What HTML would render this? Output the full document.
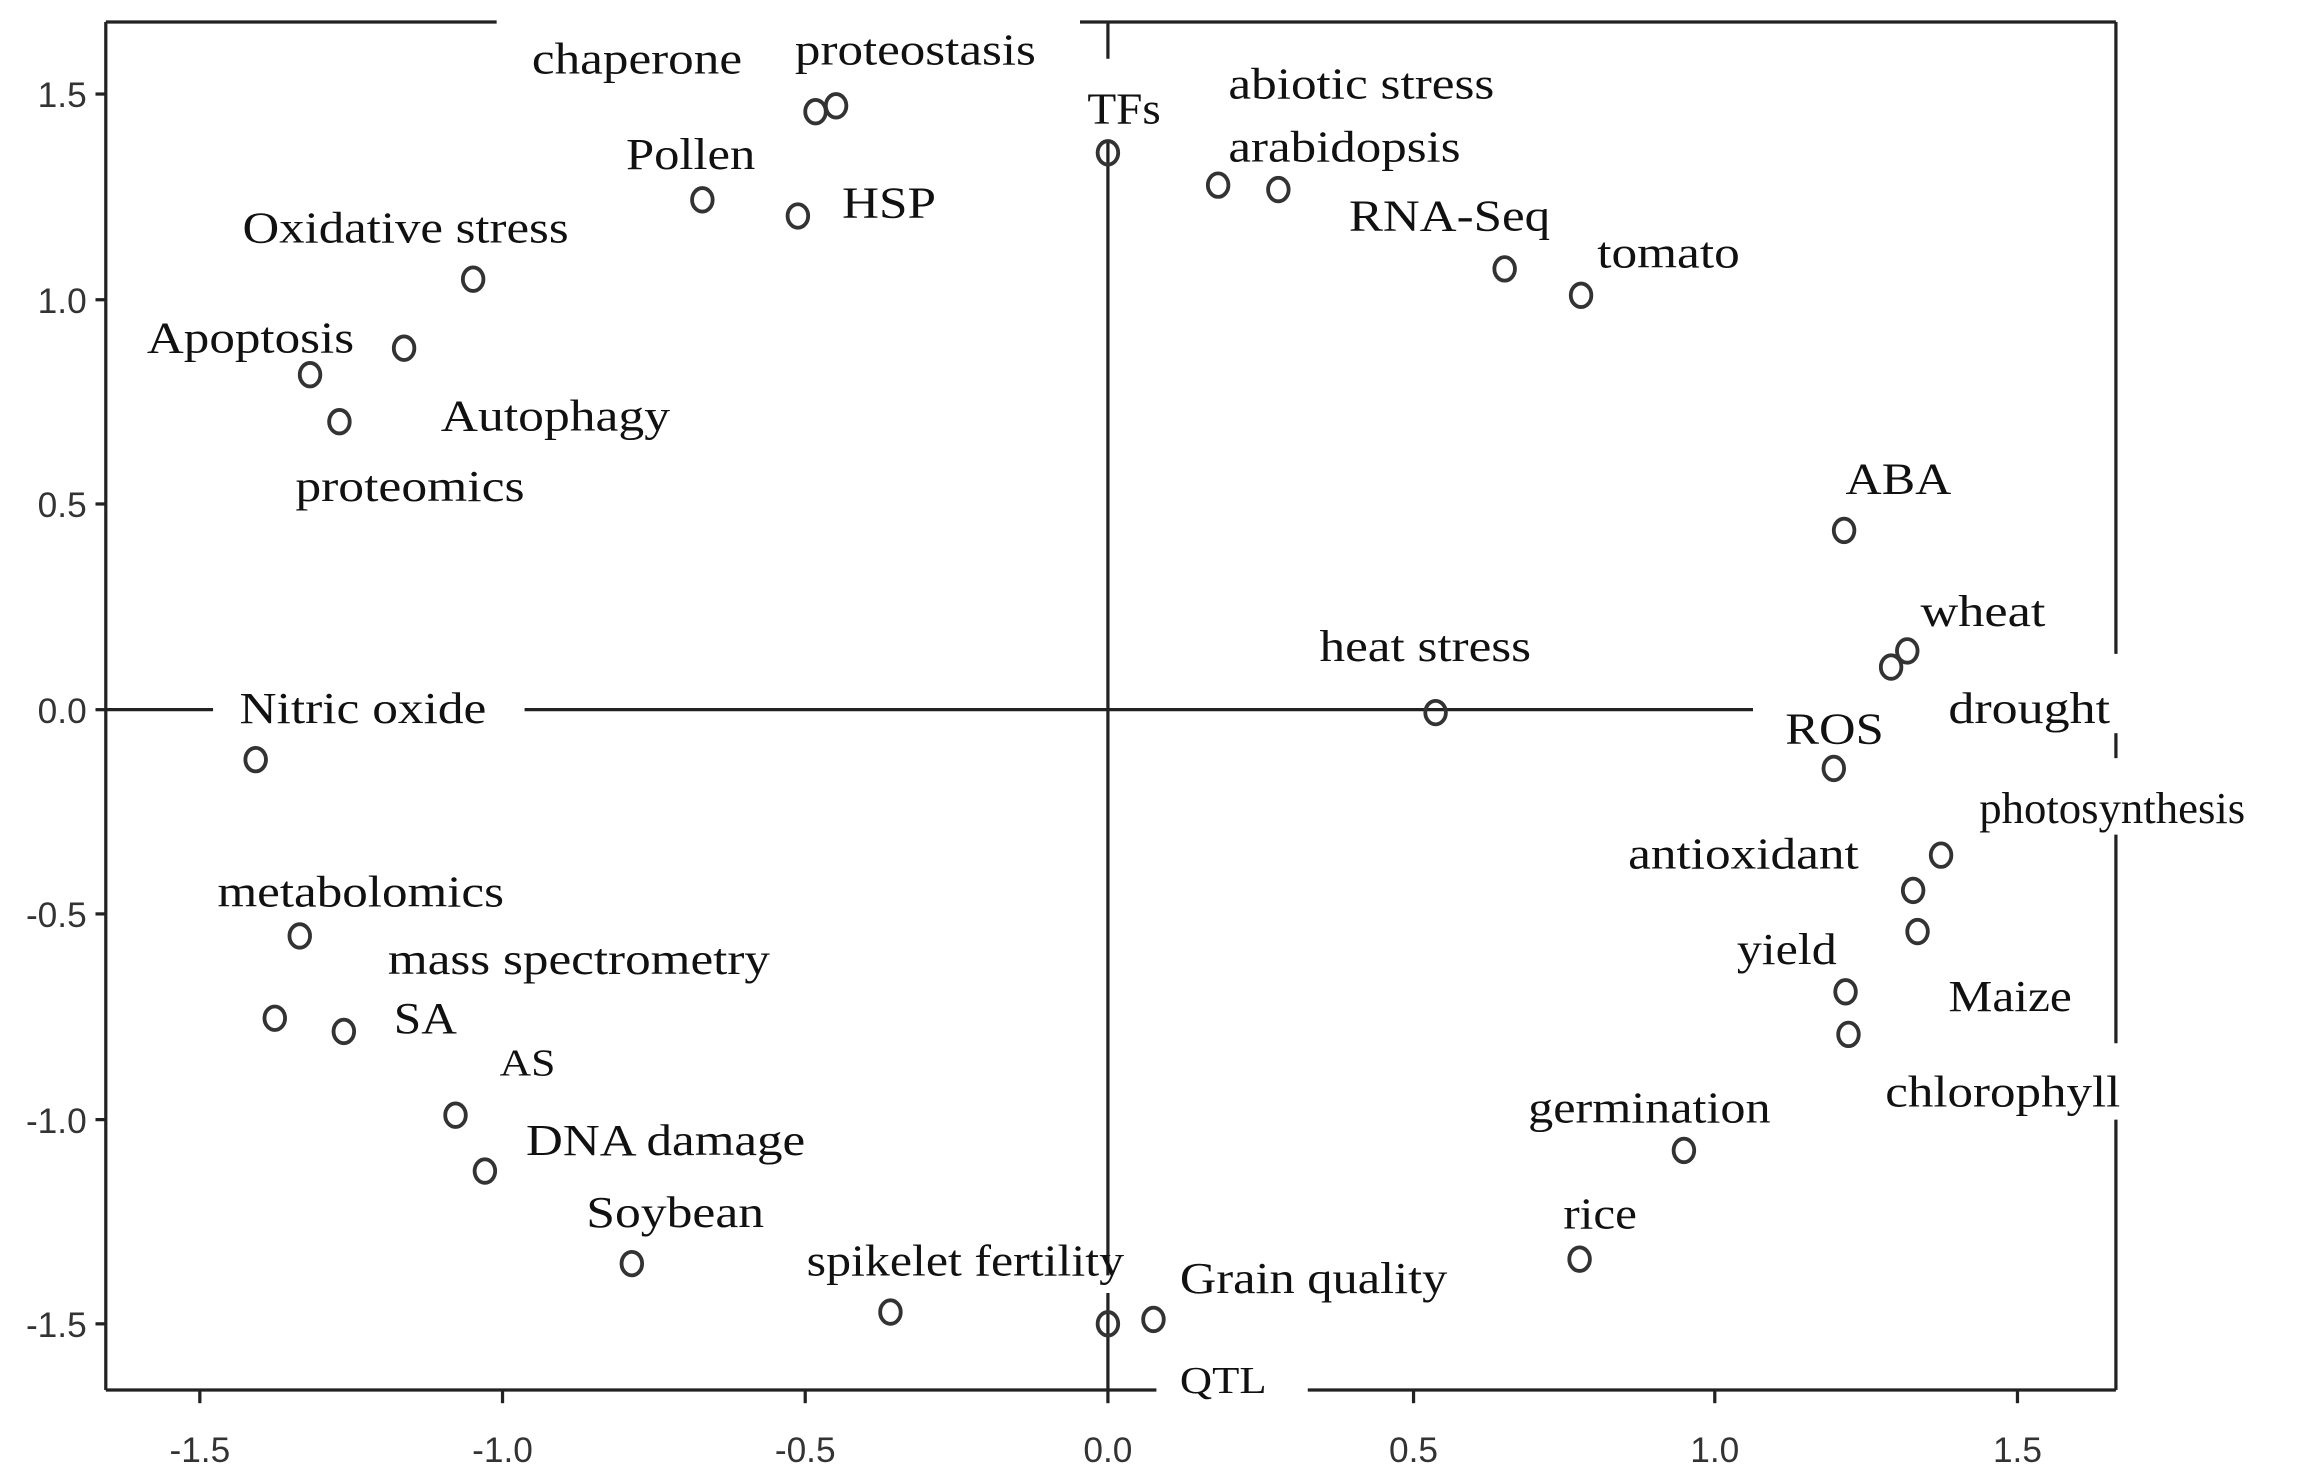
<!DOCTYPE html>
<html><head><meta charset="utf-8"><style>html,body{margin:0;padding:0;background:#fff}svg{display:block}</style></head>
<body>
<svg width="2304" height="1484" viewBox="0 0 1568 1010" preserveAspectRatio="none" xmlns="http://www.w3.org/2000/svg">
<g stroke="#222" stroke-width="2.2" fill="none">
<line x1="72" y1="15" x2="338" y2="15"/><line x1="735" y1="15" x2="1440" y2="15"/>
<line x1="72" y1="15" x2="72" y2="946"/>
<line x1="72" y1="946" x2="787" y2="946"/><line x1="890" y1="946" x2="1440" y2="946"/>
<line x1="1440" y1="15" x2="1440" y2="445"/><line x1="1440" y1="499" x2="1440" y2="516"/>
<line x1="1440" y1="568" x2="1440" y2="710"/><line x1="1440" y1="762" x2="1440" y2="946"/>
<line x1="754" y1="15" x2="754" y2="40"/><line x1="754" y1="95" x2="754" y2="868"/><line x1="754" y1="880" x2="754" y2="946"/>
<line x1="72" y1="483" x2="145" y2="483"/><line x1="357" y1="483" x2="1193" y2="483"/>
<line x1="65" y1="64" x2="72" y2="64"/><line x1="65" y1="204" x2="72" y2="204"/><line x1="65" y1="343" x2="72" y2="343"/><line x1="65" y1="483" x2="72" y2="483"/><line x1="65" y1="622" x2="72" y2="622"/><line x1="65" y1="762" x2="72" y2="762"/><line x1="65" y1="901" x2="72" y2="901"/>
<line x1="136" y1="946" x2="136" y2="955"/><line x1="342" y1="946" x2="342" y2="955"/><line x1="548" y1="946" x2="548" y2="955"/><line x1="754" y1="946" x2="754" y2="955"/><line x1="962" y1="946" x2="962" y2="955"/><line x1="1167" y1="946" x2="1167" y2="955"/><line x1="1373" y1="946" x2="1373" y2="955"/>
</g>
<g font-family="Liberation Sans, sans-serif" font-size="24" fill="#333" text-anchor="end">
<text x="59" y="73">1.5</text><text x="59" y="213">1.0</text><text x="59" y="352">0.5</text><text x="59" y="492">0.0</text><text x="59" y="631">-0.5</text><text x="59" y="771">-1.0</text><text x="59" y="910">-1.5</text>
</g>
<g font-family="Liberation Sans, sans-serif" font-size="24" fill="#333" text-anchor="middle">
<text x="136" y="995">-1.5</text><text x="342" y="995">-1.0</text><text x="548" y="995">-0.5</text><text x="754" y="995">0.0</text><text x="962" y="995">0.5</text><text x="1167" y="995">1.0</text><text x="1373" y="995">1.5</text>
</g>
<g stroke="#333" stroke-width="2.6" fill="none">
<ellipse cx="555" cy="76" rx="7" ry="8"/><ellipse cx="569" cy="72" rx="7" ry="8"/><ellipse cx="754" cy="104" rx="7" ry="8"/>
<ellipse cx="829" cy="126" rx="7" ry="8"/><ellipse cx="870" cy="129" rx="7" ry="8"/><ellipse cx="1024" cy="183" rx="7" ry="8"/><ellipse cx="1076" cy="201" rx="7" ry="8"/>
<ellipse cx="478" cy="136" rx="7" ry="8"/><ellipse cx="543" cy="147" rx="7" ry="8"/><ellipse cx="322" cy="190" rx="7" ry="8"/><ellipse cx="275" cy="237" rx="7" ry="8"/>
<ellipse cx="211" cy="255" rx="7" ry="8"/><ellipse cx="231" cy="287" rx="7" ry="8"/><ellipse cx="1255" cy="361" rx="7" ry="8"/>
<ellipse cx="1298" cy="443" rx="7" ry="8"/><ellipse cx="1287" cy="454" rx="7" ry="8"/><ellipse cx="977" cy="485" rx="7" ry="8"/>
<ellipse cx="1248" cy="523" rx="7" ry="8"/><ellipse cx="1321" cy="582" rx="7" ry="8"/><ellipse cx="1302" cy="606" rx="7" ry="8"/><ellipse cx="1305" cy="634" rx="7" ry="8"/>
<ellipse cx="1256" cy="675" rx="7" ry="8"/><ellipse cx="1258" cy="704" rx="7" ry="8"/><ellipse cx="1146" cy="783" rx="7" ry="8"/><ellipse cx="1075" cy="857" rx="7" ry="8"/>
<ellipse cx="174" cy="517" rx="7" ry="8"/><ellipse cx="204" cy="637" rx="7" ry="8"/><ellipse cx="187" cy="693" rx="7" ry="8"/><ellipse cx="234" cy="702" rx="7" ry="8"/>
<ellipse cx="310" cy="759" rx="7" ry="8"/><ellipse cx="330" cy="797" rx="7" ry="8"/><ellipse cx="430" cy="860" rx="7" ry="8"/><ellipse cx="606" cy="893" rx="7" ry="8"/>
<ellipse cx="754" cy="901" rx="7" ry="8"/><ellipse cx="785" cy="898" rx="7" ry="8"/>
</g>
<g font-family="Liberation Serif, serif" font-size="30" fill="#111">
<text x="362" y="50" textLength="143" lengthAdjust="spacingAndGlyphs">chaperone</text>
<text x="541" y="44" textLength="164" lengthAdjust="spacingAndGlyphs">proteostasis</text>
<text x="740" y="84" textLength="50" lengthAdjust="spacingAndGlyphs">TFs</text>
<text x="836" y="67" textLength="181" lengthAdjust="spacingAndGlyphs">abiotic stress</text>
<text x="836" y="110" textLength="158" lengthAdjust="spacingAndGlyphs">arabidopsis</text>
<text x="918" y="157" textLength="137" lengthAdjust="spacingAndGlyphs">RNA-Seq</text>
<text x="1087" y="182" textLength="97" lengthAdjust="spacingAndGlyphs">tomato</text>
<text x="426" y="115" textLength="88" lengthAdjust="spacingAndGlyphs">Pollen</text>
<text x="573" y="148" textLength="64" lengthAdjust="spacingAndGlyphs">HSP</text>
<text x="165" y="165" textLength="222" lengthAdjust="spacingAndGlyphs">Oxidative stress</text>
<text x="100" y="240" textLength="141" lengthAdjust="spacingAndGlyphs">Apoptosis</text>
<text x="300" y="293" textLength="156" lengthAdjust="spacingAndGlyphs">Autophagy</text>
<text x="201" y="341" textLength="156" lengthAdjust="spacingAndGlyphs">proteomics</text>
<text x="1256" y="336" textLength="72" lengthAdjust="spacingAndGlyphs">ABA</text>
<text x="1307" y="426" textLength="85" lengthAdjust="spacingAndGlyphs">wheat</text>
<text x="898" y="450" textLength="144" lengthAdjust="spacingAndGlyphs">heat stress</text>
<text x="1326" y="492" textLength="110" lengthAdjust="spacingAndGlyphs">drought</text>
<text x="1215" y="506" textLength="67" lengthAdjust="spacingAndGlyphs">ROS</text>
<text x="1347" y="560" textLength="181" lengthAdjust="spacingAndGlyphs">photosynthesis</text>
<text x="1108" y="591" textLength="157" lengthAdjust="spacingAndGlyphs">antioxidant</text>
<text x="1182" y="656" textLength="68" lengthAdjust="spacingAndGlyphs">yield</text>
<text x="1326" y="688" textLength="84" lengthAdjust="spacingAndGlyphs">Maize</text>
<text x="1283" y="753" textLength="160" lengthAdjust="spacingAndGlyphs">chlorophyll</text>
<text x="1040" y="764" textLength="165" lengthAdjust="spacingAndGlyphs">germination</text>
<text x="1064" y="836" textLength="50" lengthAdjust="spacingAndGlyphs">rice</text>
<text x="163" y="492" textLength="168" lengthAdjust="spacingAndGlyphs">Nitric oxide</text>
<text x="148" y="617" textLength="195" lengthAdjust="spacingAndGlyphs">metabolomics</text>
<text x="264" y="663" textLength="260" lengthAdjust="spacingAndGlyphs">mass spectrometry</text>
<text x="268" y="703" textLength="43" lengthAdjust="spacingAndGlyphs">SA</text>
<text x="340" y="732" textLength="38" lengthAdjust="spacingAndGlyphs" font-size="26">AS</text>
<text x="358" y="786" textLength="190" lengthAdjust="spacingAndGlyphs">DNA damage</text>
<text x="399" y="835" textLength="121" lengthAdjust="spacingAndGlyphs">Soybean</text>
<text x="549" y="868" textLength="216" lengthAdjust="spacingAndGlyphs">spikelet fertility</text>
<text x="803" y="880" textLength="182" lengthAdjust="spacingAndGlyphs">Grain quality</text>
<text x="803" y="948" textLength="59" lengthAdjust="spacingAndGlyphs" font-size="26">QTL</text>
</g>
</svg>
</body></html>
